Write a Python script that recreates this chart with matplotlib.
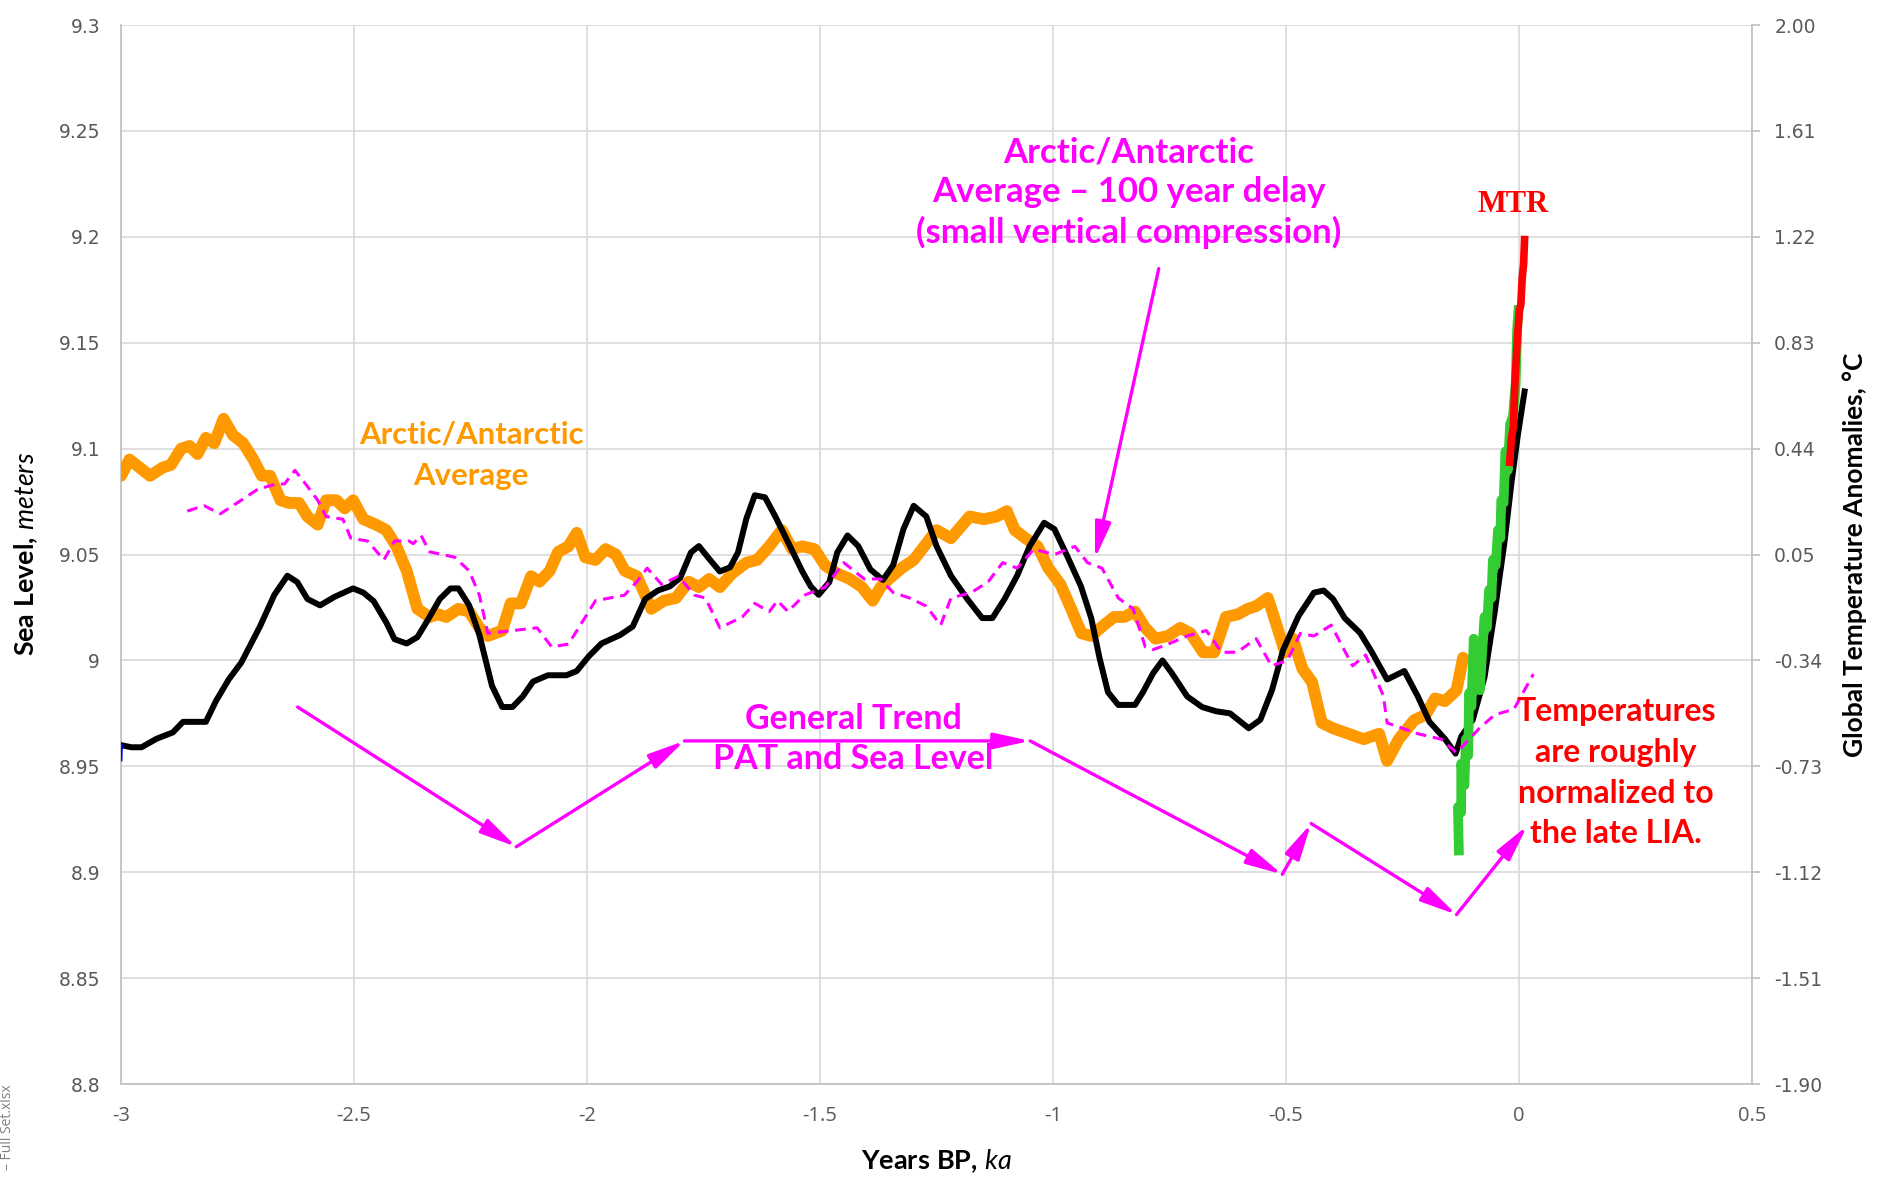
import numpy as np
import matplotlib.pyplot as plt

plt.rcParams["axes.unicode_minus"] = False
plt.rcParams["mathtext.fontset"] = "custom"
plt.rcParams["mathtext.bf"] = "Lato:bold"
plt.rcParams["mathtext.it"] = "Lato:italic"
plt.rcParams["mathtext.rm"] = "Lato"

# --- sea level (left axis, metres) ---
sea_x = [-3.000, -2.978, -2.956, -2.924, -2.889, -2.867, -2.844, -2.818, -2.796, -2.769,
         -2.742, -2.702, -2.671, -2.643, -2.622, -2.600, -2.573, -2.542, -2.502, -2.480,
         -2.458, -2.431, -2.413, -2.387, -2.364, -2.342, -2.316, -2.293, -2.276, -2.253,
         -2.231, -2.204, -2.182, -2.160, -2.138, -2.116, -2.084, -2.044, -2.022, -1.996,
         -1.969, -1.929, -1.902, -1.875, -1.848, -1.822, -1.800, -1.777, -1.760, -1.738,
         -1.715, -1.693, -1.676, -1.658, -1.640, -1.618, -1.596, -1.569, -1.538, -1.520,
         -1.503, -1.480, -1.463, -1.441, -1.418, -1.392, -1.365, -1.343, -1.321, -1.299,
         -1.272, -1.250, -1.219, -1.184, -1.152, -1.130, -1.104, -1.077, -1.050, -1.019,
         -0.997, -0.971, -0.940, -0.918, -0.900, -0.882, -0.860, -0.824, -0.807, -0.785,
         -0.765, -0.745, -0.712, -0.680, -0.650, -0.620, -0.580, -0.555, -0.530, -0.506,
         -0.473, -0.440, -0.419, -0.399, -0.374, -0.341, -0.316, -0.283, -0.246, -0.217,
         -0.192, -0.159, -0.136, -0.124, -0.099, -0.074, -0.052, -0.031, -0.016, -0.002,
         0.012]
sea_level = [8.960, 8.959, 8.959, 8.963, 8.966, 8.971, 8.971, 8.971, 8.981, 8.991,
             8.999, 9.016, 9.031, 9.040, 9.037, 9.029, 9.026, 9.030, 9.034, 9.032,
             9.028, 9.018, 9.010, 9.008, 9.011, 9.019, 9.029, 9.034, 9.034, 9.026,
             9.012, 8.988, 8.978, 8.978, 8.983, 8.990, 8.993, 8.993, 8.995, 9.002,
             9.008, 9.012, 9.016, 9.029, 9.033, 9.035, 9.039, 9.051, 9.054, 9.048,
             9.042, 9.044, 9.051, 9.067, 9.078, 9.077, 9.068, 9.056, 9.042, 9.035,
             9.031, 9.037, 9.051, 9.059, 9.054, 9.043, 9.038, 9.045, 9.062, 9.073,
             9.068, 9.054, 9.040, 9.029, 9.020, 9.020, 9.029, 9.040, 9.054, 9.065,
             9.062, 9.050, 9.035, 9.020, 9.001, 8.985, 8.979, 8.979, 8.985, 8.994,
             9.000, 8.994, 8.983, 8.978, 8.976, 8.975, 8.968, 8.972, 8.986, 9.005,
             9.021, 9.032, 9.033, 9.029, 9.020, 9.013, 9.004, 8.991, 8.995, 8.983,
             8.971, 8.963, 8.956, 8.964, 8.972, 8.992, 9.023, 9.056, 9.084, 9.107,
             9.127]
alt_sea_x = [-3.000, -2.999]
alt_sea_level = [8.953, 8.960]

# --- Arctic/Antarctic average temperature (right axis, deg C) ---
polar_x = [-3.000, -2.982, -2.960, -2.938, -2.911, -2.893, -2.871, -2.853, -2.836, -2.818,
           -2.800, -2.780, -2.760, -2.738, -2.716, -2.698, -2.680, -2.658, -2.640, -2.618,
           -2.600, -2.578, -2.560, -2.538, -2.520, -2.502, -2.480, -2.453, -2.431, -2.409,
           -2.387, -2.364, -2.338, -2.320, -2.302, -2.276, -2.253, -2.231, -2.213, -2.182,
           -2.164, -2.142, -2.120, -2.102, -2.080, -2.062, -2.040, -2.022, -2.004, -1.982,
           -1.960, -1.938, -1.919, -1.893, -1.862, -1.835, -1.809, -1.782, -1.760, -1.738,
           -1.715, -1.689, -1.658, -1.635, -1.609, -1.582, -1.560, -1.538, -1.512, -1.489,
           -1.463, -1.436, -1.410, -1.387, -1.370, -1.352, -1.325, -1.299, -1.272, -1.250,
           -1.219, -1.179, -1.148, -1.121, -1.099, -1.082, -1.059, -1.033, -1.010, -0.984,
           -0.961, -0.939, -0.918, -0.891, -0.869, -0.847, -0.824, -0.802, -0.780, -0.753,
           -0.727, -0.705, -0.678, -0.654, -0.629, -0.603, -0.582, -0.564, -0.539, -0.522,
           -0.502, -0.485, -0.465, -0.444, -0.423, -0.399, -0.366, -0.333, -0.300, -0.283,
           -0.258, -0.225, -0.200, -0.180, -0.159, -0.134, -0.120]
polar_temp = [0.34, 0.40, 0.37, 0.34, 0.37, 0.38, 0.44, 0.45, 0.42, 0.48,
              0.46, 0.55, 0.49, 0.46, 0.40, 0.34, 0.34, 0.25, 0.24, 0.24,
              0.19, 0.16, 0.25, 0.25, 0.22, 0.25, 0.18, 0.16, 0.14, 0.08,
              -0.01, -0.15, -0.18, -0.17, -0.18, -0.15, -0.16, -0.22, -0.25, -0.23,
              -0.13, -0.13, -0.03, -0.05, -0.01, 0.06, 0.08, 0.13, 0.04, 0.03,
              0.07, 0.05, -0.01, -0.03, -0.15, -0.12, -0.11, -0.05, -0.07, -0.04,
              -0.07, -0.02, 0.02, 0.03, 0.08, 0.14, 0.07, 0.08, 0.07, 0.01,
              -0.02, -0.04, -0.07, -0.12, -0.07, -0.04, 0.00, 0.03, 0.09, 0.14,
              0.11, 0.19, 0.18, 0.19, 0.21, 0.14, 0.11, 0.08, 0.00, -0.06,
              -0.15, -0.24, -0.25, -0.21, -0.18, -0.18, -0.16, -0.22, -0.26, -0.25,
              -0.22, -0.24, -0.31, -0.31, -0.18, -0.17, -0.15, -0.14, -0.11, -0.20,
              -0.31, -0.26, -0.37, -0.42, -0.57, -0.59, -0.61, -0.63, -0.61, -0.71,
              -0.63, -0.56, -0.54, -0.48, -0.49, -0.45, -0.33]

# same average shifted by 100 years
delay_x = [-2.858, -2.822, -2.787, -2.751, -2.707, -2.667, -2.649, -2.627, -2.604, -2.578,
           -2.560, -2.524, -2.507, -2.471, -2.436, -2.413, -2.382, -2.373, -2.356, -2.338,
           -2.284, -2.253, -2.231, -2.213, -2.107, -2.076, -2.040, -2.018, -1.982, -1.920,
           -1.893, -1.871, -1.840, -1.804, -1.769, -1.746, -1.715, -1.667, -1.640, -1.609,
           -1.591, -1.569, -1.534, -1.489, -1.449, -1.405, -1.370, -1.343, -1.308, -1.272,
           -1.241, -1.219, -1.175, -1.139, -1.108, -1.077, -1.041, -0.997, -0.953, -0.926,
           -0.895, -0.860, -0.828, -0.802, -0.785, -0.753, -0.712, -0.671, -0.638, -0.605,
           -0.564, -0.531, -0.497, -0.469, -0.440, -0.403, -0.357, -0.329, -0.291, -0.283,
           -0.217, -0.167, -0.134, -0.085, -0.052, -0.011, 0.031]
delay_temp = [0.21, 0.23, 0.20, 0.24, 0.29, 0.31, 0.31, 0.36, 0.31, 0.25,
              0.19, 0.18, 0.11, 0.10, 0.03, 0.10, 0.10, 0.09, 0.12, 0.06,
              0.04, -0.01, -0.10, -0.24, -0.22, -0.29, -0.28, -0.22, -0.12, -0.10,
              -0.05, 0.00, -0.06, -0.03, -0.10, -0.11, -0.22, -0.18, -0.13, -0.16,
              -0.12, -0.16, -0.10, -0.07, 0.02, -0.04, -0.04, -0.09, -0.11, -0.14,
              -0.21, -0.11, -0.09, -0.05, 0.02, 0.00, 0.07, 0.05, 0.08, 0.02,
              0.00, -0.11, -0.15, -0.29, -0.30, -0.28, -0.25, -0.23, -0.31, -0.31,
              -0.26, -0.36, -0.34, -0.24, -0.25, -0.21, -0.36, -0.32, -0.47, -0.57,
              -0.61, -0.63, -0.68, -0.59, -0.54, -0.52, -0.39]

# instrumental record
inst_x = [-0.129, -0.131, -0.124, -0.124, -0.117, -0.114, -0.109, -0.107, -0.102, -0.097,
          -0.094, -0.088, -0.084, -0.079, -0.074, -0.069, -0.064, -0.059, -0.056, -0.050,
          -0.045, -0.040, -0.038, -0.033, -0.029, -0.024, -0.019, -0.013, -0.007, -0.004,
          -0.001]
inst_temp = [-1.04, -0.88, -0.90, -0.72, -0.80, -0.63, -0.69, -0.46, -0.51, -0.26,
             -0.43, -0.34, -0.45, -0.31, -0.18, -0.22, -0.08, -0.11, 0.03, 0.01,
             0.14, 0.11, 0.25, 0.24, 0.43, 0.36, 0.53, 0.56, 0.68, 0.88,
             0.95]

# modern temperature rise
mtr_x = [-0.020, -0.016, -0.012, -0.009, -0.004, 0.001, 0.004, 0.007, 0.010, 0.012]
mtr_temp = [0.39, 0.48, 0.52, 0.67, 0.83, 0.95, 0.97, 1.07, 1.12, 1.21]

# general-trend arrow path (ka, m)
trend_x = [-2.621, -2.152, -1.791, -1.049, -0.508, -0.446, -0.134, 0.018]
trend_y = [8.978, 8.912, 8.962, 8.962, 8.899, 8.923, 8.880, 8.922]

sea_ticks = [8.8, 8.85, 8.9, 8.95, 9.0, 9.05, 9.1, 9.15, 9.2, 9.25, 9.3]
sea_labels = ["8.8", "8.85", "8.9", "8.95", "9", "9.05", "9.1", "9.15", "9.2", "9.25", "9.3"]
temp_ticks = [-1.90, -1.51, -1.12, -0.73, -0.34, 0.05, 0.44, 0.83, 1.22, 1.61, 2.00]
temp_labels = ["-1.90", "-1.51", "-1.12", "-0.73", "-0.34", "0.05", "0.44", "0.83",
               "1.22", "1.61", "2.00"]
year_ticks = [-3, -2.5, -2, -1.5, -1, -0.5, 0, 0.5]
year_labels = ["-3", "-2.5", "-2", "-1.5", "-1", "-0.5", "0", "0.5"]

MAGENTA = "#FF00FF"
ORANGE = "#FF9900"
GRID = "#D9D9D9"
AXIS = "#BFBFBF"
TICK_TXT = "#595959"

fig = plt.figure(figsize=(18.83, 11.82), dpi=100)
ax = fig.add_axes([0.0643, 0.0829, 0.8661, 0.8959])
ax2 = ax.twinx()
ax2.set_ylim(temp_ticks[0], temp_ticks[-1])

# temperature series live in ax2 units but are drawn in ax so zorder mixes with sea level
tt = ax2.transData
ax.plot(polar_x, polar_temp, color=ORANGE, lw=8.5, solid_joinstyle="round",
        solid_capstyle="round", transform=tt, zorder=3)
ax.plot(sea_x, sea_level, color="black", lw=4.3, solid_joinstyle="round", zorder=4)
ax.plot(alt_sea_x, alt_sea_level, color="blue", lw=2.0, zorder=4)
ax.plot(inst_x, inst_temp, color="#33CC33", lw=7.0, transform=tt, zorder=5)
ax.plot(mtr_x, mtr_temp, color="red", lw=5.5, transform=tt, zorder=6)
ax.plot(delay_x, delay_temp, color=MAGENTA, lw=2.2, ls=(0, (3.5, 2.2)), transform=tt, zorder=7)

ax.set_xlim(-3, 0.5)
ax.set_ylim(8.8, 9.3)

ax.set_xticks(year_ticks)
ax.set_xticklabels(year_labels, fontfamily="Open Sans", fontsize=14.5, color=TICK_TXT)
ax.set_yticks(sea_ticks)
ax.set_yticklabels(sea_labels, fontfamily="DejaVu Sans", fontsize=13.5, color=TICK_TXT)
ax.tick_params(axis="both", length=0)
ax.tick_params(axis="x", pad=16)
ax.tick_params(axis="y", pad=15)
ax.grid(True, color=GRID, lw=1.2)
ax.set_axisbelow(True)
for side in ("top", "right"):
    ax.spines[side].set_visible(False)
for side in ("left", "bottom"):
    ax.spines[side].set_color(AXIS)
    ax.spines[side].set_linewidth(1.2)

ax2.set_yticks(temp_ticks)
ax2.set_yticklabels(temp_labels, fontfamily="DejaVu Sans", fontsize=13.5, color=TICK_TXT)
ax2.tick_params(axis="y", length=6, width=1.2, color=AXIS, pad=10)
for side in ("top", "left", "bottom"):
    ax2.spines[side].set_visible(False)
ax2.spines["right"].set_color(AXIS)
ax2.spines["right"].set_linewidth(1.2)

# trend arrows
arrow = dict(arrowstyle="-|>,head_length=1.0,head_width=0.22", color=MAGENTA, lw=2.4,
             shrinkA=0, shrinkB=0, mutation_scale=22)
for i in range(len(trend_x) - 1):
    ax.annotate("", xy=(trend_x[i + 1], trend_y[i + 1]), xytext=(trend_x[i], trend_y[i]),
                arrowprops=arrow, zorder=8)
ax.annotate("", xy=(-0.910, 9.048), xytext=(-0.773, 9.185), arrowprops=arrow, zorder=8)

bold = dict(fontfamily="Lato", fontweight="bold", ha="center", va="center", zorder=9)
ax.text(-2.249, 9.097, "Arctic/Antarctic\nAverage", color=ORANGE, fontsize=22.4,
        linespacing=1.58, **bold)
ax.text(-0.837, 9.221, "Arctic/Antarctic\nAverage \u2013 100 year delay\n(small vertical compression)",
        color=MAGENTA, fontsize=25, linespacing=1.29, **bold)
ax.text(-1.429, 8.963, "General Trend\nPAT and Sea Level", color=MAGENTA, fontsize=24.5,
        linespacing=1.32, **bold)
ax.text(0.208, 8.947, "Temperatures\nare roughly\nnormalized to\nthe late LIA.", color="red",
        fontsize=23, linespacing=1.49, **bold)
ax.text(-0.013, 9.2155, "MTR", color="red", fontsize=22, fontfamily="Liberation Serif",
        fontweight="bold", ha="center", va="center", zorder=9)

fig.text(0.014, 0.531, r"$\mathbf{Sea\ Level,}\,\mathit{meters}$", rotation=90,
         ha="center", va="center", fontsize=19.3)
fig.text(0.4976, 0.0178, r"$\mathbf{Years\ BP,}\,\mathit{ka}$", ha="center", va="center",
         fontsize=19.5)
fig.text(0.985, 0.531, "Global Temperature Anomalies, \u00b0C", rotation=90, ha="center",
         va="center", fontsize=19, fontweight="bold", fontfamily="Lato")
fig.text(0.004, 0.046, "\u2013 Full Set.xlsx", rotation=90, ha="center", va="center",
         fontsize=10, color="#808080", fontfamily="Open Sans")

fig.savefig("out.png", dpi=100)
